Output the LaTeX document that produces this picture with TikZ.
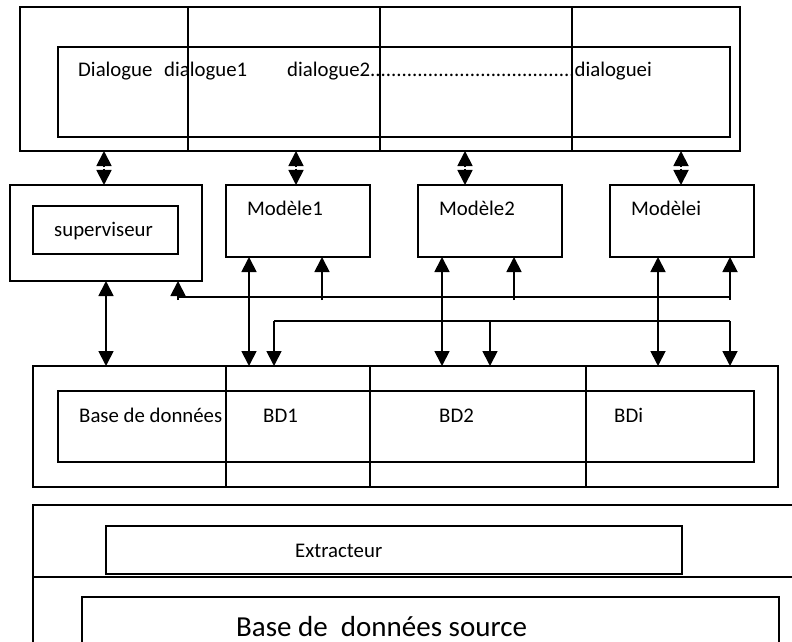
\documentclass[tikz,border=0pt]{standalone}
\usepackage{fontspec}
\setmainfont{Carlito}
\usetikzlibrary{arrows.meta,calc}
% rectangle node given by its top-left and bottom-right corners (y grows downwards)
\newcommand\plainbox[5]{\node[box, minimum width=#4bp-#2bp, minimum height=#5bp-#3bp] (#1) at (#2,#3) {};}
\begin{document}
\begin{tikzpicture}[x=1bp,y=-1bp,
  box/.style={draw, line width=1.8bp, inner sep=0pt, outer sep=0pt, anchor=north west},
  lbl/.style={inner sep=0pt, anchor=base west, font=\fontsize{20.8bp}{25bp}\selectfont},
  biglbl/.style={inner sep=0pt, anchor=base west, font=\fontsize{29bp}{34bp}\selectfont},
  wire/.style={line width=1.8bp},
  tip/.style={wire, -{Triangle[width=15bp,length=15bp]}},
  both/.style={wire, {Triangle[width=15bp,length=15bp]}-{Triangle[width=15bp,length=15bp]}},
  half/.style={tip, shorten <=0.7bp},
]
\clip (0,0) rectangle (792,642);

% ---- dialogue layer
\plainbox{dlgO}{20}{7}{740}{151}
\draw[wire] (188,7) -- (188,151);
\draw[wire] (380,7) -- (380,151);
\draw[wire] (572,7) -- (572,151);
\plainbox{dlgI}{58}{47}{730}{137}
\node[lbl] (tD) at (78,77) {Dialogue};
\node[lbl] (tD1) at (164,77) {dialogue1};
\node[lbl] (tD2) at (287,77) {dialogue2.......................................dialoguei};

% ---- supervisor and models
\plainbox{supO}{10}{185}{202}{281}
\plainbox{supI}{33}{206}{178}{254}
\node[lbl] (tSup) at (54,237) {superviseur};
\plainbox{mod1}{226}{185}{370}{257}
\plainbox{mod2}{418}{185}{562}{257}
\plainbox{modi}{610}{185}{754}{257}
\node[lbl] (tM1) at (247,216) {Modèle1};
\node[lbl] (tM2) at (439,216) {Modèle2};
\node[lbl] (tMi) at (631,216) {Modèlei};

% ---- databases
\plainbox{bdO}{33}{366}{778}{487}
\draw[wire] (226,366) -- (226,487);
\draw[wire] (370,366) -- (370,487);
\draw[wire] (586,366) -- (586,487);
\plainbox{bdI}{58}{391}{754}{462}
\node[lbl] (tBD) at (79,422) {Base de données};
\node[lbl] (tBD1) at (263,422) {BD1};
\node[lbl] (tBD2) at (439,422) {BD2};
\node[lbl] (tBDi) at (614,422) {BDi};

% ---- extraction layer
\plainbox{srcO}{33}{505}{830}{700}
\draw[wire] (srcO.west |- 0,577) -- (830,577);
\plainbox{ext}{106}{526}{682}{574}
\node[lbl] (tExt) at (295,557) {Extracteur};
\plainbox{src}{82}{597}{779}{700}
\node[biglbl] (tSrc) at (236,636) {Base de~~données source};

% ---- dialogue <-> supervisor / models
\coordinate (a0) at (104,168);
\coordinate (a1) at (296,168);
\coordinate (a2) at (465,168);
\coordinate (a3) at (681,168);
\draw[half] (a0) -- (a0 |- dlgO.south);  \draw[half] (a0) -- (a0 |- supO.north);
\draw[half] (a1) -- (a1 |- dlgO.south);  \draw[half] (a1) -- (a1 |- mod1.north);
\draw[half] (a2) -- (a2 |- dlgO.south);  \draw[half] (a2) -- (a2 |- mod2.north);
\draw[half] (a3) -- (a3 |- dlgO.south);  \draw[half] (a3) -- (a3 |- modi.north);

% ---- supervisor / models <-> databases
\draw[both] (supO.south) -- (supO.south |- bdO.north);
\coordinate (d1) at (249,257);
\coordinate (d2) at (442,257);
\coordinate (d3) at (658,257);
\draw[both] (d1) -- (d1 |- bdO.north);
\draw[both] (d2) -- (d2 |- bdO.north);
\draw[both] (d3) -- (d3 |- bdO.north);

% ---- return bus towards supervisor and models
\coordinate (ret) at (0,297);
\coordinate (stub) at (0,300);
\coordinate (r0) at (178,281);
\coordinate (r1) at (322,257);
\coordinate (r2) at (514,257);
\coordinate (r3) at (730,257);
\draw[wire] (r0 |- ret) -- (r3 |- ret);
\draw[tip] (r0 |- stub) -- (r0);
\draw[tip] (r1 |- stub) -- (r1);
\draw[tip] (r2 |- stub) -- (r2);
\draw[tip] (r3 |- stub) -- (r3);

% ---- feed bus towards the databases
\coordinate (f1) at (274,321);
\coordinate (f2) at (490,321);
\coordinate (f3) at (730,321);
\draw[wire] (f1) -- (f3);
\draw[tip] (f1) -- (f1 |- bdO.north);
\draw[tip] (f2) -- (f2 |- bdO.north);
\draw[tip] (f3) -- (f3 |- bdO.north);
\end{tikzpicture}
\end{document}
